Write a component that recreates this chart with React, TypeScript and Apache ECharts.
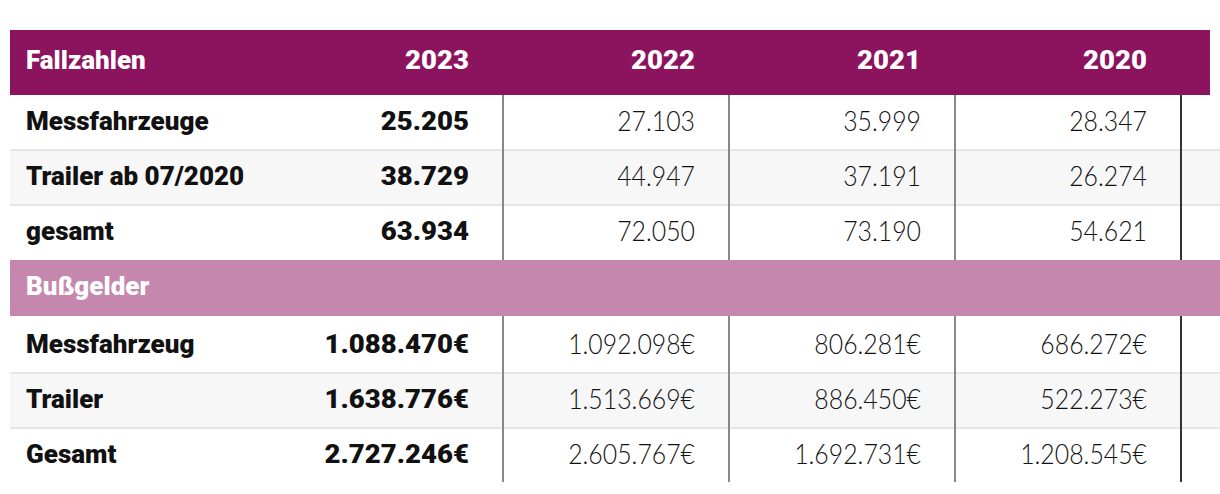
import React, { useEffect, useRef } from "react";
import * as echarts from "echarts";

const years = ["2023", "2022", "2021", "2020"];
const fallLabels = ["Messfahrzeuge", "Trailer ab 07/2020", "gesamt"];
const fallValues = [
  ["25.205", "27.103", "35.999", "28.347"],
  ["38.729", "44.947", "37.191", "26.274"],
  ["63.934", "72.050", "73.190", "54.621"],
];
const bussLabels = ["Messfahrzeug", "Trailer", "Gesamt"];
const bussValues = [
  ["1.088.470€", "1.092.098€", "806.281€", "686.272€"],
  ["1.638.776€", "1.513.669€", "886.450€", "522.273€"],
  ["2.727.246€", "2.605.767€", "1.692.731€", "1.208.545€"],
];
const headerTitle = "Fallzahlen";
const sectionTitle = "Bußgelder";

const BOLD = "'Roboto', 'Open Sans', sans-serif";
const LIGHT = "'Lato', 'Open Sans', sans-serif";

export default function App() {
  const ref = useRef<HTMLDivElement>(null);
  useEffect(() => {
    const chart = echarts.init(ref.current!, null, { renderer: "svg" });
    const els: any[] = [];
    const left = 10;
    const headerRight = 1210;
    const rowRight = 1220;
    const colLines = [503, 729, 955, 1181];
    const textRight = colLines.map((x) => x - 34);
    const labelX = 26;
    const numScale = 1.06;
    const boldFont = `900 26px ${BOLD}`;

    // header
    els.push({ type: "rect", shape: { x: left, y: 30, width: headerRight - left, height: 65 }, style: { fill: "#8c135e" }, z: 5 });
    els.push({ type: "text", x: labelX, y: 60, style: { text: headerTitle, fill: "#fff", font: boldFont, textVerticalAlign: "middle", textAlign: "left" }, z: 6 });
    years.forEach((y, i) => {
      els.push({ type: "text", x: textRight[i], y: 60, scaleX: numScale, style: { text: y, fill: "#fff", font: boldFont, textAlign: "right", textVerticalAlign: "middle" }, z: 6 });
    });

    const drawGroup = (labels: string[], values: string[][], rowTops: number[]) => {
      labels.forEach((lab, r) => {
        const top = rowTops[r];
        const h = 55;
        if (r === 1) {
          els.push({ type: "rect", shape: { x: left, y: top, width: rowRight - left, height: h }, style: { fill: "#f7f7f7" }, z: 1 });
        }
        if (r > 0) {
          els.push({ type: "rect", shape: { x: left, y: top - 1, width: rowRight - left, height: 2 }, style: { fill: "#e6e6e6" }, z: 2 });
        }
        const cy = top + h / 2 - 1.5;
        els.push({ type: "text", x: labelX, y: cy, style: { text: lab, fill: "#111", font: boldFont, textVerticalAlign: "middle", textAlign: "left" }, z: 6 });
        values[r].forEach((v, c) => {
          els.push({
            type: "text", x: textRight[c], y: cy, scaleX: c === 0 ? numScale : 0.92,
            style: { text: v, fill: "#111", font: c === 0 ? boldFont : `300 27px ${LIGHT}`, textAlign: "right", textVerticalAlign: "middle" }, z: 6,
          });
        });
      });
    };
    drawGroup(fallLabels, fallValues, [95, 150, 205]);
    // section bar
    els.push({ type: "rect", shape: { x: left, y: 260, width: rowRight - left, height: 56 }, style: { fill: "#c587ae" }, z: 5 });
    els.push({ type: "text", x: labelX, y: 286, style: { text: sectionTitle, fill: "#fff", font: boldFont, textVerticalAlign: "middle", textAlign: "left" }, z: 6 });
    drawGroup(bussLabels, bussValues, [318, 373, 428]);

    // vertical lines
    colLines.forEach((x, i) => {
      const color = i === 3 ? "#333333" : "#888888";
      [[95, 260], [316, 482]].forEach(([y1, y2]) => {
        els.push({ type: "rect", shape: { x: x - 1, y: y1, width: 2, height: y2 - y1 }, style: { fill: color }, z: 3 });
      });
    });

    chart.setOption({ animation: false, graphic: { elements: els } });
    return () => chart.dispose();
  }, []);
  return <div ref={ref} style={{ position: "absolute", left: 0, top: 0, width: 1220, height: 494 }} />;
}
